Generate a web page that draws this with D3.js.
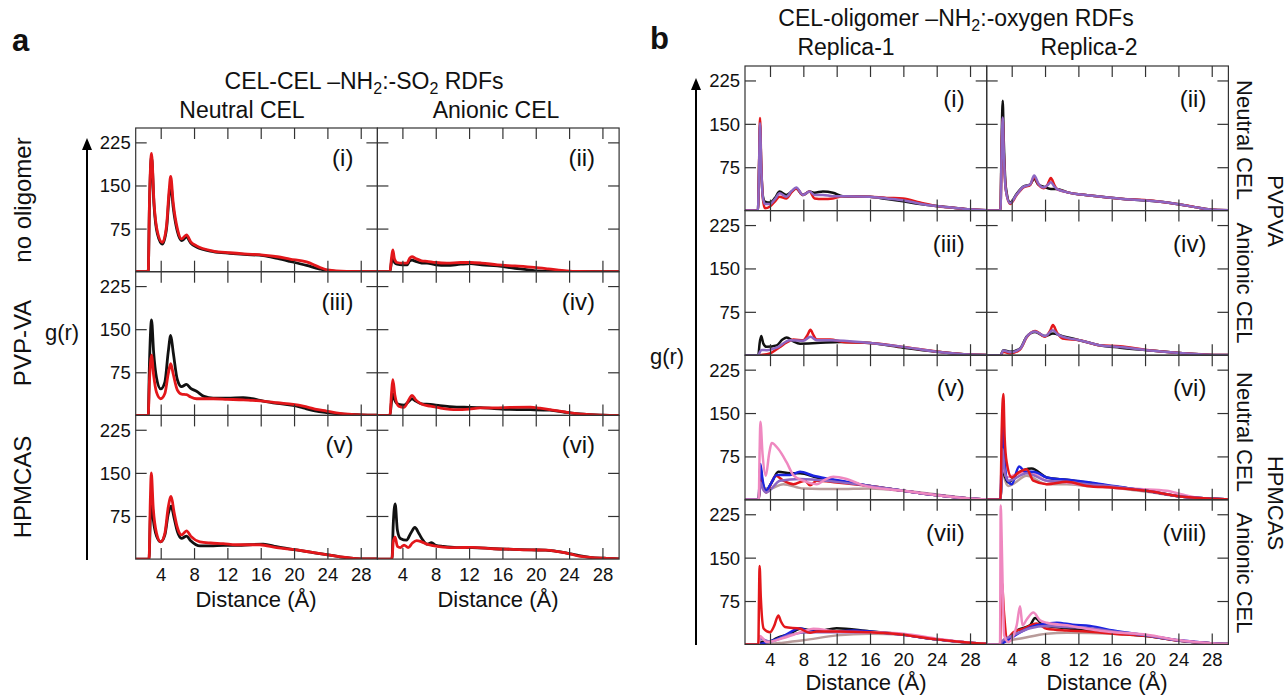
<!DOCTYPE html>
<html>
<head>
<meta charset="utf-8">
<script src="https://cdn.jsdelivr.net/npm/d3@7/dist/d3.min.js"></script>
<style>
  body { margin: 0; background: #fff; }
  svg { font-family: "Liberation Sans", Arial, sans-serif; }
</style>
</head>
<body>
<div id="chart"></div>
<script>
// tick values
const xTicks = [4, 8, 12, 16, 20, 24, 28];
const yTicks = [75, 150, 225];

// ---- panel a : CEL-CEL RDFs ([distance, g(r)]) ----
const aNoneNeutralBlack = [[1,0],[2.5,0],[2.65,115],[2.9,200],[3.2,115],[3.6,66],[4.2,48],[4.7,75],[5.0,130],[5.2,153],[5.5,112],[6.0,70],[6.5,54],[7.1,60],[7.6,50],[8.3,43],[10.3,35],[12.3,32],[14,30],[16.3,28],[18,23],[19.5,18],[21.5,11],[23,5],[24,2],[26,0.3],[30,0]];
const aNoneNeutralRed = [[1,0],[2.5,0],[2.65,120],[2.9,206],[3.2,120],[3.6,70],[4.2,51],[4.7,80],[5.0,140],[5.2,166],[5.5,120],[6.0,75],[6.5,57],[7.1,64],[7.6,52],[8.3,45],[10.3,36],[12.3,33],[14,31],[16.3,29],[18,26],[19.5,22],[21.5,17],[23,8],[24,3],[26.3,0.5],[30,0]];
const aNoneAnionicBlack = [[1,0],[2.5,0],[2.7,18],[2.85,28],[3.05,16],[3.35,13],[4.0,12],[4.55,12],[4.9,19],[5.15,20],[5.6,18],[6.3,15],[6.95,15],[8,12],[9.35,11],[11,13],[12.2,14],[13.5,12],[15.4,10],[17.5,6],[19.8,2],[21.5,1],[23.7,0.5],[30,0]];
const aNoneAnionicRed = [[1,0],[2.5,0],[2.7,25],[2.85,38],[3.05,22],[3.35,16],[4.0,15],[4.55,15],[4.9,24],[5.15,26],[5.6,23],[6.3,19],[6.95,18],[8,16],[9.35,15],[11,16],[12.2,16],[13.5,15],[15.4,12],[17.5,10],[19.8,7.5],[21.5,5],[23.7,1.5],[25,0.5],[30,0]];
const aPvpNeutralBlack = [[1,0],[2.5,0],[2.65,90],[2.9,166],[3.15,110],[3.5,65],[4.0,46],[4.5,58],[4.9,110],[5.2,139],[5.5,110],[6.0,62],[6.5,50],[7.1,54],[7.6,47],[8.3,42],[9.2,33],[10.3,30],[12,30],[13.9,31],[15,29],[16.3,25],[18,21],[19.9,17.5],[21.1,13],[22.5,8],[23.9,5],[25.5,2.5],[28,1],[30,0.5]];
const aPvpNeutralRed = [[1,0],[2.5,0],[2.65,60],[2.9,105],[3.15,70],[3.5,40],[4.0,29],[4.5,38],[4.9,72],[5.2,90],[5.5,72],[6.0,44],[6.5,37],[7.1,36],[7.6,32],[8.3,29],[10.3,29],[12,28],[13.9,27],[15,26],[16.3,25],[18,22],[19.9,19],[21.1,16],[22.5,11],[23.9,7.5],[25.5,3.5],[28,1],[30,0.5]];
const aPvpAnionicBlack = [[1,0],[2.5,0],[2.7,25],[2.85,38],[3.1,26],[3.55,19],[4.2,18],[4.8,25],[5.15,29],[5.6,25],[6.3,20],[7.35,19],[8.5,17],[10.5,14.5],[12,14],[13.35,13.4],[15,12],[16.9,10.5],[19.35,10],[21.7,9],[23.5,5.5],[25.7,2],[28,0.5],[30,0]];
const aPvpAnionicRed = [[1,0],[2.5,0],[2.7,40],[2.85,62],[3.1,35],[3.55,16],[4.2,14],[4.8,28],[5.15,35],[5.6,27],[6.3,20],[7.35,16],[8.5,13],[10.5,10],[12,11],[13.35,13],[15,13],[17,14],[19.35,14.5],[20.5,12.5],[21.7,10],[23.5,6],[25.7,2],[28,0.5],[30,0]];
const aHpmNeutralBlack = [[1,0],[2.6,0],[2.75,70],[2.87,106],[3.1,70],[3.5,40],[4.0,30],[4.5,42],[4.9,78],[5.25,92],[5.6,72],[6.0,48],[6.5,36],[7.1,40],[7.6,32],[8.7,23],[10,23],[11.5,24],[13,24],[16.3,26],[17.9,21.5],[20.3,16],[22,12],[23.5,8.5],[25.5,4],[27.5,1],[30,0.3]];
const aHpmNeutralRed = [[1,0],[2.6,0],[2.75,100],[2.87,150],[3.1,90],[3.5,45],[4.0,30],[4.5,45],[4.9,90],[5.25,109],[5.6,82],[6.0,55],[6.5,42],[7.1,49],[7.6,40],[8.7,30],[10,28],[11.5,27],[13,25],[15.9,25],[17.9,20],[20.3,16],[22,12],[23.5,8.7],[25.5,4],[27.5,1],[30,0.3]];
const aHpmAnionicBlack = [[1,0],[2.75,0],[2.9,60],[3.13,96],[3.4,50],[3.75,36],[4.5,33],[5.0,45],[5.5,55],[6.0,44],[6.5,32],[6.95,26],[7.5,28.5],[8,24],[8.9,22],[10.5,20],[12.4,20],[15,18],[17.3,17],[19.5,16],[21.2,15.5],[22.7,13],[24.2,9],[25.2,6],[26.5,3],[28.2,1.5],[30,0.5]];
const aHpmAnionicRed = [[1,0],[2.75,0],[2.9,30],[3.13,38],[3.4,22],[3.75,20],[4.2,24.4],[4.7,20],[5.2,28],[5.7,32],[6.3,30],[6.95,26],[7.5,24],[8.9,21],[10.5,20],[12.4,20.4],[15,18],[17.3,17],[19.5,16],[21.2,15.7],[22.7,13],[24.2,8.7],[25.2,5],[26.5,3],[28.2,1.5],[30,0.5]];

// ---- panel b : CEL-oligomer RDFs ----
const b1Black = [[1,0],[2.55,0],[2.7,85],[2.8,148],[2.95,75],[3.15,25],[3.4,15.6],[4.0,14],[4.6,22],[5.15,33],[5.95,27],[6.6,33],[7.15,38],[7.95,27],[8.75,33],[9.35,31],[10.35,33],[11.55,31],[12.75,25],[15.95,24],[18,20],[19.95,16],[22,11.5],[23.95,8],[26,5],[27.95,2.3],[30,0.6]];
const b1Red = [[1,0],[2.55,0],[2.7,90],[2.8,160],[2.95,80],[3.15,20],[3.4,4],[4.0,7],[4.6,16],[5.15,24],[5.95,21],[6.6,32],[7.15,38],[7.95,27],[8.75,33],[9.35,21],[10.35,20],[11.55,21],[12.75,25],[15.95,24],[18,22],[19.95,21],[22,14],[23.95,8],[26,5],[27.95,2.3],[30,0.6]];
const b1Purple = [[1,0],[2.55,0],[2.7,85],[2.8,151],[2.95,75],[3.15,22],[3.4,11.5],[4.0,11.5],[4.6,20],[5.15,30],[5.95,24],[6.6,34],[7.15,40],[7.95,27],[8.75,33],[9.35,27],[10.35,27],[11.55,25],[12.75,25],[15.95,24],[18,21],[19.95,18],[22,12],[23.95,8],[26,5],[27.95,2.3],[30,0.6]];
const b2Black = [[1,0],[2.65,0],[2.78,110],[2.92,190],[3.05,120],[3.3,40],[3.8,14],[4.6,29],[5.4,41.5],[6.2,45],[6.7,55],[7.2,45],[7.8,41.5],[8.7,37.5],[9.4,37.5],[10.6,32],[13.4,26],[17.4,20],[20.2,17.3],[23.8,11.5],[26,6],[27.8,1.7],[30,0.5]];
const b2Red = [[1,0],[2.65,0],[2.78,95],[2.92,159],[3.05,100],[3.3,35],[3.8,11.5],[4.6,27],[5.4,40],[6.2,44],[6.7,57.7],[7.2,45],[7.8,38.7],[8.3,45],[8.7,56.5],[9.1,45],[9.4,37.5],[10.6,32],[13.4,26],[17.4,20],[20.2,18],[23.8,11.5],[26,6],[27.8,1.7],[30,0.5]];
const b2Purple = [[1,0],[2.65,0],[2.78,95],[2.92,161],[3.05,100],[3.3,35],[3.8,12.7],[4.6,28],[5.4,41],[6.2,45],[6.7,60.6],[7.2,47],[7.8,40],[8.3,44],[8.7,49],[9.1,42],[9.4,37.5],[10.6,32],[13.4,26],[17.4,20],[20.2,17.3],[23.8,11.5],[26,6],[27.8,1.7],[30,0.5]];
const b3Black = [[1,0],[2.6,0],[2.75,20],[2.95,33],[3.2,20],[3.6,14.4],[4.8,17],[5.5,27],[6.0,30.6],[6.8,24],[7.6,20],[9.6,21],[12.4,23],[16,21],[20,13],[24,6],[28,1],[30,0.3]];
const b3Red = [[1,0],[2.6,0],[3.0,0.5],[4.0,3],[5.2,14.4],[6.0,22],[6.8,27],[8,26],[8.5,35],[8.85,44],[9.2,35],[9.6,27],[11.2,27],[12.8,23],[16,21],[20,14.4],[24,6.3],[28,1],[30,0.3]];
const b3Purple = [[1,0],[2.6,0],[2.8,6],[3.0,9],[3.6,8.7],[4.8,13],[6.4,26],[8,25],[8.85,32],[9.6,26],[11.2,26],[16,21],[20,14.4],[24,6],[28,1],[30,0.3]];
const b4Black = [[1,0],[2.65,0],[3.0,8.7],[3.8,5.8],[5,11.5],[5.8,32],[6.8,40],[8,33],[8.95,37.5],[10.1,33],[12.1,26],[14.5,17.3],[17,13],[20.2,8.7],[24.2,4],[28.2,0.5],[30,0.2]];
const b4Red = [[1,0],[2.65,0],[3.0,6],[3.8,3],[5,10],[5.8,31],[6.8,42],[8,32],[8.6,42],[8.95,52],[9.4,40],[10.1,29],[12.1,26],[14.5,17.3],[17,15.6],[20.2,9],[24.2,4],[28.2,0.5],[30,0.2]];
const b4Purple = [[1,0],[2.65,0],[3.0,8],[3.8,5],[5,11],[5.8,32],[6.8,41],[8,33],[8.95,43],[9.5,36],[10.1,32],[12.1,26],[14.5,17.3],[17,14],[20.2,8.7],[24.2,4],[28.2,0.5],[30,0.2]];
const b5Pink = [[1,0],[2.65,0],[2.75,80],[2.85,135],[3.1,80],[3.5,41.5],[3.9,80],[4.2,98],[5.0,87.7],[6.0,64.6],[6.8,42.7],[8,33],[9.6,27],[10.6,35],[11.6,40],[13.2,36],[15.2,25],[20,15.6],[24,8],[28,2.3],[30,0.6]];
const b5Blue = [[1,0],[2.65,0],[2.75,40],[2.85,62],[3.1,35],[3.5,15.6],[4.0,25],[4.8,42.7],[6.4,42.7],[7.6,48.5],[9.2,41.5],[11.2,36],[13.6,30],[16,24],[20,15.6],[24,8],[28,2.3],[30,0.6]];
const b5Black = [[1,0],[2.65,0],[2.75,35],[2.85,56],[3.1,30],[3.55,15.6],[4.2,30],[5,48.5],[6.4,46],[7.6,46],[9.6,38.7],[12,33],[16,24],[20,15.6],[24,8],[28,2.3],[30,0.6]];
const b5Red = [[1,0],[2.65,0],[2.75,28],[2.85,41.5],[3.1,25],[3.55,12.7],[4.2,30],[4.7,41.5],[5.6,33],[6.8,27],[8.2,33],[8.8,25],[9.6,33],[12,30],[16,24],[20,15.6],[24,8],[28,2.3],[30,0.6]];
const b5Tan = [[1,0],[2.65,0],[2.85,24],[3.8,18.5],[5.6,27],[8,19.6],[12,18.5],[16,19.6],[20,15.6],[24,9.2],[28,2.3],[30,0.6]];
const b5Purple = [[1,0],[2.65,0],[2.75,20],[2.85,30],[3.1,20],[3.55,12.7],[5.2,33],[7.6,36],[12,31],[16,24],[20,15.6],[24,8],[28,2.3],[30,0.6]];
const b6Red = [[1,0],[2.65,0],[2.8,120],[3.0,183],[3.15,110],[3.4,64.6],[4.0,38.7],[4.8,47],[5.8,53],[6.6,33],[8.2,27],[10.6,31],[13,24],[16.2,21],[20.2,15.6],[24.2,5.8],[28.2,1.7],[30,0.5]];
const b6Blue = [[1,0],[2.65,0],[2.8,80],[2.92,129],[3.1,80],[3.4,35.8],[4.0,27],[4.9,57.7],[5.6,48.5],[6.6,48.5],[8.2,38.7],[10.6,34.6],[13,31],[16.2,24],[20.2,15.6],[24.2,5.8],[28.2,1.7],[30,0.5]];
const b6Black = [[1,0],[2.65,0],[2.8,35],[2.92,56],[3.2,40],[3.6,30],[4.6,44.4],[6.4,54],[8.2,38.7],[10.6,34.6],[13,30],[16.2,23],[20.2,15.6],[24.2,5.8],[28.2,1.7],[30,0.5]];
const b6Pink = [[1,0],[2.65,0],[2.8,50],[2.92,76],[3.1,50],[3.4,38.7],[4.6,44.4],[5.8,50],[8.2,33],[10.6,30],[13,25],[16.2,21],[19.4,18.5],[22.6,15.6],[24.5,9],[26.2,4],[28.2,1.5],[30,0.5]];
const b6Tan = [[1,0],[2.65,0],[2.8,40],[2.92,64.6],[3.1,40],[3.6,24],[5.8,41.5],[8.2,27],[10.6,27],[13,24],[16.2,21],[20.2,14],[24.2,5.8],[28.2,1.7],[30,0.5]];
const b6Purple = [[1,0],[2.65,0],[2.8,55],[2.92,87.7],[3.1,55],[3.6,33],[5.8,46],[8.2,33],[10.6,31],[13,27],[16.2,23],[20.2,15.6],[24.2,5.8],[28.2,1.7],[30,0.5]];
const b7Red = [[1,0],[2.6,0],[2.68,80],[2.75,135.6],[2.9,80],[3.25,27],[4,21],[4.5,32],[5,50],[5.3,40],[5.8,30],[7.6,27],[8.8,20],[9.6,22.5],[12,22.5],[16,21],[19.2,18],[24,8.7],[28,3],[30,1]];
const b7Black = [[1,0],[2.7,0],[2.85,4],[4,5],[4.8,11],[6.4,18.5],[7.6,27],[9.6,22.5],[12,28],[16,22.5],[19.2,18.5],[24,8.7],[28,3],[30,1]];
const b7Blue = [[1,0],[2.7,0],[2.9,1],[4,5],[5.6,14.4],[7.6,28],[8.8,22.5],[12,22.5],[14,24],[16,22.5],[19.2,18],[24,8.7],[28,3],[30,1]];
const b7Pink = [[1,0],[2.6,0],[2.8,14.4],[3.6,4],[5.6,11],[8,22.5],[9.2,27],[12,22.5],[16,21],[20,18.5],[24,9.8],[28,3],[30,1]];
const b7Tan = [[1,0],[2.7,0],[5.6,3],[8,7],[12,15.6],[16,18.5],[20,16.7],[24,8.7],[28,2.5],[30,1]];
const b7Purple = [[1,0],[2.6,0],[2.8,10],[4,5],[6.4,16.7],[8.8,21],[12,21],[16,21],[20,16.7],[24,8.7],[28,3],[30,1]];
const b8Pink = [[1,0],[2.6,0],[2.68,240],[2.8,180],[2.92,96],[3.1,15.6],[3.6,4],[4.6,33],[5.0,66],[5.3,33],[5.8,43],[6.6,55],[7.4,41.5],[8.2,37.5],[10.6,33],[13,27],[16.2,21],[20.2,16.7],[24.2,7],[28.2,1.7],[30,0.5]];
const b8Red = [[1,0],[2.6,0],[2.7,60],[2.8,108],[3.1,50],[3.4,10],[4.2,21],[5.4,27],[7,36],[8.2,27],[10.6,24],[13,22.5],[16.2,18.5],[20.2,14.4],[24.2,6.3],[28.2,1.7],[30,0.5]];
const b8Black = [[1,0],[2.7,0],[2.9,4],[3.8,10],[4.6,24],[6.2,33],[6.8,45.6],[7.8,33],[10.6,28],[13,24],[16.2,20],[20.2,14.4],[24.2,6.3],[28.2,1.7],[30,0.5]];
const b8Blue = [[1,0],[2.7,0],[2.8,1],[3.8,10],[5.4,24],[7,33],[9.4,37.5],[11.3,34],[13.4,31.7],[16.2,24],[20.2,15.6],[24.2,7],[28.2,1.7],[30,0.5]];
const b8Tan = [[1,0],[2.7,0],[2.9,3],[5.4,11],[8.2,18.5],[10.6,20],[16.2,18.5],[20.2,14.4],[24.2,6.3],[28.2,1.7],[30,0.5]];
const b8Purple = [[1,0],[2.7,0],[2.8,5],[4.2,15.6],[6.2,28],[8.2,31.7],[10.6,30],[13.4,28],[16.2,22.5],[20.2,15.6],[24.2,6.3],[28.2,1.7],[30,0.5]];

const C = { black: '#111', red: '#e3171b', purple: '#8d66c2', blue: '#1b24e0', pink: '#ef88c0', tan: '#b89b9a' };

const svg = d3.select('#chart').append('svg').attr('width', 1287).attr('height', 695);
const defs = svg.append('defs');
// arrow head for the g(r) axes
defs.append('marker').attr('id', 'arrow')
  .attr('viewBox', '0 0 12 10').attr('refX', 0).attr('refY', 5)
  .attr('markerUnits', 'userSpaceOnUse')
  .attr('markerWidth', 12).attr('markerHeight', 10).attr('orient', 'auto')
  .append('path').attr('d', 'M0,0 L12,5 L0,10 Z').attr('fill', '#000');

const xScale = d3.scaleLinear().domain([1, 30]);
const yScale = d3.scaleLinear().domain([0, 250]);
let clipN = 0;

function drawPanel(p) {
  const w = p.w, h = p.h;
  const x = xScale.copy().range([0, w]);
  const y = yScale.copy().range([h, 0]);
  const g = svg.append('g').attr('transform', `translate(${p.x0},${p.y0})`);
  const id = 'clip' + (clipN++);
  defs.append('clipPath').attr('id', id).append('rect').attr('width', w).attr('height', h);

  const line = d3.line().x(d => x(d[0])).y(d => y(d[1])).curve(d3.curveMonotoneX);
  g.append('g').attr('clip-path', `url(#${id})`)
    .selectAll('path').data(p.series).join('path')
    .attr('d', s => line(s.data))
    .attr('fill', 'none').attr('stroke', s => C[s.color])
    .attr('stroke-width', p.lw).attr('stroke-linejoin', 'round');

  const tick = 11;
  const left = g.append('g').call(d3.axisLeft(y).tickValues(yTicks).tickSize(-tick).tickPadding(5).tickSizeOuter(0));
  const right = g.append('g').attr('transform', `translate(${w},0)`)
    .call(d3.axisRight(y).tickValues(yTicks).tickSize(-tick).tickFormat('').tickSizeOuter(0));
  const top = g.append('g').call(d3.axisTop(x).tickValues(xTicks).tickSize(-tick).tickFormat('').tickSizeOuter(0));
  const bottom = g.append('g').attr('transform', `translate(0,${h})`)
    .call(d3.axisBottom(x).tickValues(xTicks).tickSize(-tick).tickPadding(8).tickSizeOuter(0));
  if (!p.yLabels) left.selectAll('text').remove();
  if (!p.xLabels) bottom.selectAll('text').remove();
  [left, right, top, bottom].forEach(a => {
    a.select('.domain').remove();
    a.selectAll('line').attr('stroke', '#333').attr('stroke-width', 1.2);
    a.selectAll('text').attr('fill', '#111').style('font-size', '18.5px').style('font-family', '"Liberation Sans", Arial, sans-serif');
  });
  left.selectAll('text').attr('dy', '0.35em');
  bottom.selectAll('text').attr('dy', '0.75em');

  g.append('rect').attr('width', w).attr('height', h)
    .attr('fill', 'none').attr('stroke', '#333').attr('stroke-width', 1.2);

  g.append('text').attr('x', w - p.labPad).attr('y', p.labY)
    .attr('text-anchor', 'end').style('font-size', '24px').attr('fill', '#111')
    .text(p.label);
}

function txt(xp, yp, s, size, opts = {}) {
  const t = svg.append('text').attr('x', xp).attr('y', yp)
    .attr('text-anchor', opts.anchor || 'middle')
    .style('font-size', size + 'px').attr('fill', '#111');
  if (opts.weight) t.style('font-weight', opts.weight);
  if (opts.rotate) t.attr('transform', `rotate(${opts.rotate},${xp},${yp})`).attr('dominant-baseline', 'central');
  if (Array.isArray(s)) {
    s.forEach(part => {
      if (typeof part === 'string') t.append('tspan').text(part);
      else t.append('tspan').attr('dy', part.dy).style('font-size', part.size + 'px').text(part.t);
    });
  } else t.text(s);
  return t;
}

// ---- panel a layout ----
const aW = 241.7, aH = 143.7, aX = [135.7, 377.4], aY = [128, 271.7, 415.4];
const aRows = [
  [[aNoneNeutralBlack, aNoneNeutralRed], [aNoneAnionicBlack, aNoneAnionicRed]],
  [[aPvpNeutralBlack, aPvpNeutralRed], [aPvpAnionicBlack, aPvpAnionicRed]],
  [[aHpmNeutralBlack, aHpmNeutralRed], [aHpmAnionicBlack, aHpmAnionicRed]]
];
const aLabels = [['(i)', '(ii)'], ['(iii)', '(iv)'], ['(v)', '(vi)']];
aRows.forEach((row, r) => row.forEach((pair, c) => {
  drawPanel({
    x0: aX[c], y0: aY[r], w: aW, h: aH, lw: 2.8,
    xLabels: r === 2, yLabels: c === 0,
    label: aLabels[r][c], labPad: 24, labY: 38,
    series: [{ color: 'black', data: pair[0] }, { color: 'red', data: pair[1] }]
  });
}));

// ---- panel b layout ----
const bW = 241.7, bH = 144.6, bX = [745, 986.7], bY = [66, 210.6, 355.2, 499.8];
const bRows = [
  [[['black', b1Black], ['red', b1Red], ['purple', b1Purple]], [['black', b2Black], ['red', b2Red], ['purple', b2Purple]]],
  [[['black', b3Black], ['red', b3Red], ['purple', b3Purple]], [['black', b4Black], ['red', b4Red], ['purple', b4Purple]]],
  [[['tan', b5Tan], ['black', b5Black], ['red', b5Red], ['blue', b5Blue], ['purple', b5Purple], ['pink', b5Pink]],
   [['tan', b6Tan], ['black', b6Black], ['pink', b6Pink], ['blue', b6Blue], ['purple', b6Purple], ['red', b6Red]]],
  [[['tan', b7Tan], ['black', b7Black], ['blue', b7Blue], ['purple', b7Purple], ['pink', b7Pink], ['red', b7Red]],
   [['tan', b8Tan], ['black', b8Black], ['red', b8Red], ['blue', b8Blue], ['purple', b8Purple], ['pink', b8Pink]]]
];
const bLabels = [['(i)', '(ii)'], ['(iii)', '(iv)'], ['(v)', '(vi)'], ['(vii)', '(viii)']];
bRows.forEach((row, r) => row.forEach((set, c) => {
  drawPanel({
    x0: bX[c], y0: bY[r], w: bW, h: bH, lw: 2.5,
    xLabels: r === 3, yLabels: c === 0,
    label: bLabels[r][c], labPad: 22, labY: 41,
    series: set.map(s => ({ color: s[0], data: s[1] }))
  });
}));

// ---- panel letters and titles ----
txt(12, 51, 'a', 31, { anchor: 'start', weight: 'bold' });
txt(650, 49, 'b', 31, { anchor: 'start', weight: 'bold' });

txt(364, 89, ['CEL-CEL \u2013NH', { t: '2', size: 16, dy: 5 }, { t: ':-SO', size: 23, dy: -5 }, { t: '2', size: 16, dy: 5 }, { t: ' RDFs', size: 23, dy: -5 }], 23);
txt(242, 118, 'Neutral CEL', 23);
txt(496, 118, 'Anionic CEL', 23);

txt(956, 26, ['CEL-oligomer \u2013NH', { t: '2', size: 16, dy: 5 }, { t: ':-oxygen RDFs', size: 23, dy: -5 }], 23);
txt(846, 55, 'Replica-1', 23);
txt(1089, 55, 'Replica-2', 23);

// x-axis titles
txt(256, 607, 'Distance (\u00c5)', 22);
txt(498, 607, 'Distance (\u00c5)', 22);
txt(866, 690, 'Distance (\u00c5)', 22);
txt(1107, 690, 'Distance (\u00c5)', 22);

// y-axis arrows and titles
svg.append('line').attr('x1', 87).attr('x2', 87).attr('y1', 560).attr('y2', 150)
  .attr('stroke', '#000').attr('stroke-width', 2).attr('marker-end', 'url(#arrow)');
txt(62, 340, 'g(r)', 22);
svg.append('line').attr('x1', 696).attr('x2', 696).attr('y1', 645).attr('y2', 90)
  .attr('stroke', '#000').attr('stroke-width', 2).attr('marker-end', 'url(#arrow)');
txt(667, 364, 'g(r)', 22);

// row labels panel a
txt(22, 200, 'no oligomer', 24, { rotate: -90 });
txt(22, 343, 'PVP-VA', 24, { rotate: -90 });
txt(22, 487, 'HPMCAS', 24, { rotate: -90 });

// row labels panel b
txt(1244, 140, 'Neutral CEL', 22, { rotate: 90 });
txt(1244, 283, 'Anionic CEL', 22, { rotate: 90 });
txt(1275, 211, 'PVPVA', 22, { rotate: 90 });
txt(1244, 432, 'Neutral CEL', 22, { rotate: 90 });
txt(1244, 573, 'Anionic CEL', 22, { rotate: 90 });
txt(1275, 503, 'HPMCAS', 22, { rotate: 90 });
</script>
</body>
</html>
